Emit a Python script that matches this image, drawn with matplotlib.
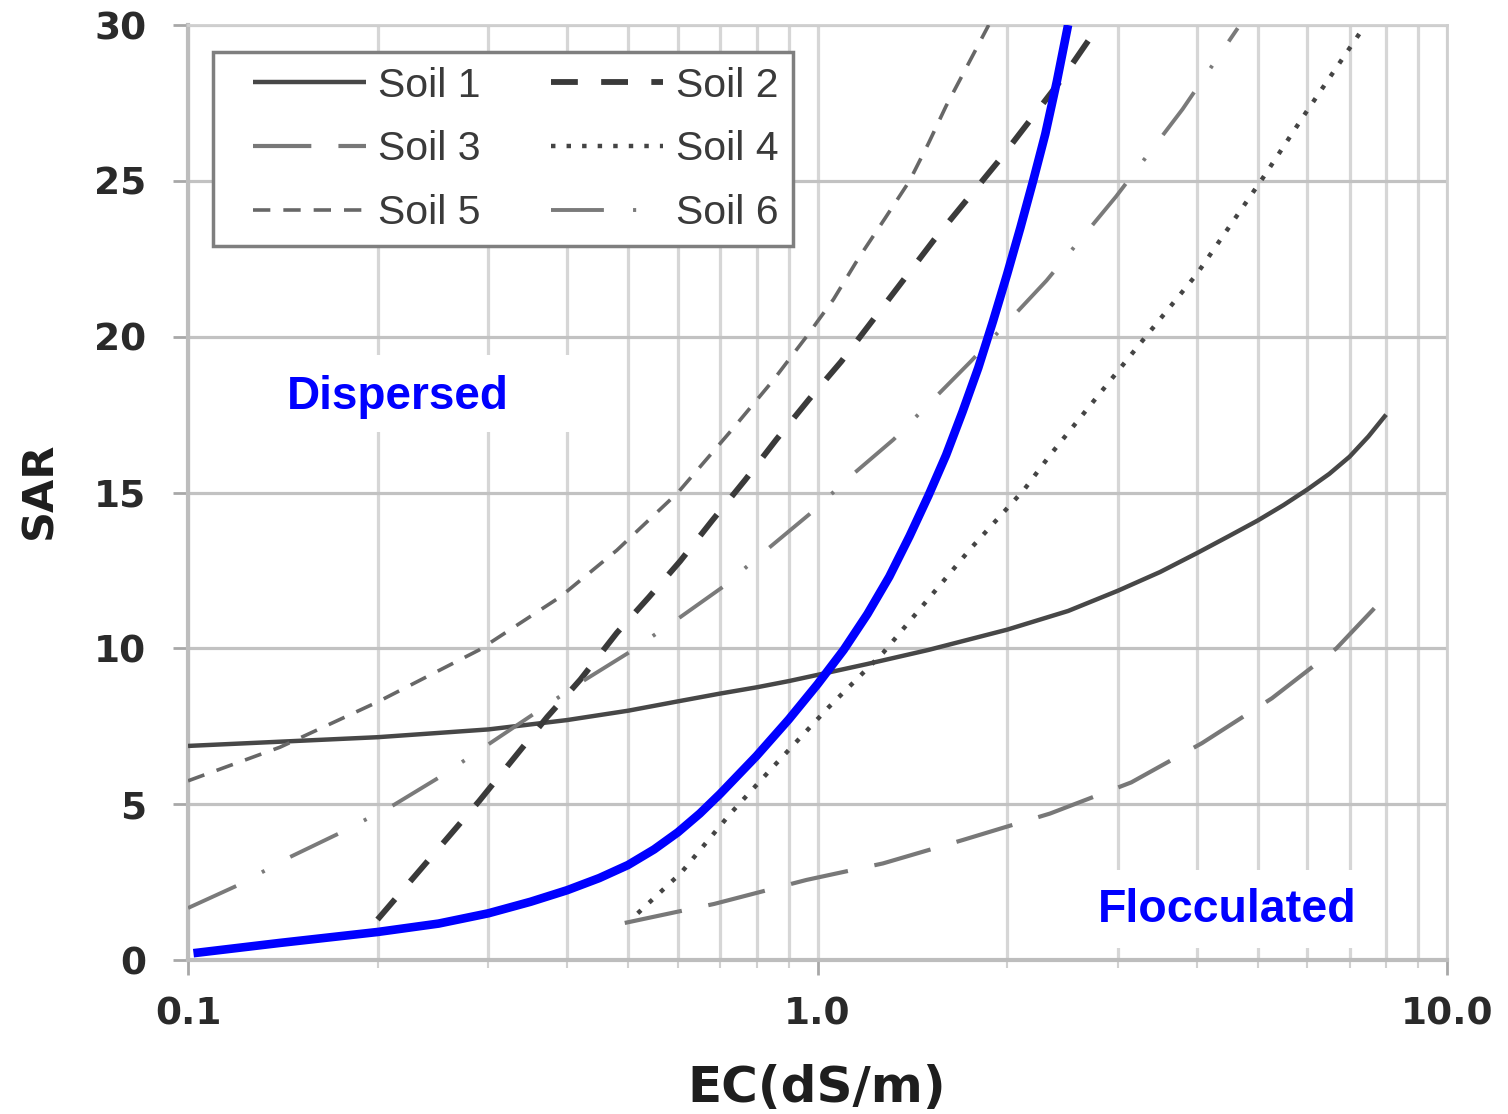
import matplotlib
matplotlib.use("Agg")
import matplotlib.pyplot as plt
from matplotlib.lines import Line2D
from matplotlib.legend_handler import HandlerLine2D
from matplotlib.patches import Rectangle
from matplotlib.ticker import LogLocator, NullFormatter

# EC (dS/m) and SAR pairs for each soil's dispersion boundary
soil1_ec = [0.1, 0.2, 0.3, 0.4, 0.5, 0.6, 0.7, 0.8, 0.9, 1.0, 1.2, 1.5, 2.0, 2.5, 3.0, 3.5,
            4.0, 4.5, 5.0, 5.5, 6.0, 6.5, 7.0, 7.5, 8.0]
soil1_sar = [6.87, 7.15, 7.4, 7.7, 8.0, 8.3, 8.55, 8.75, 8.95, 9.15, 9.5, 9.95, 10.6, 11.2, 11.85, 12.45,
             13.05, 13.6, 14.1, 14.6, 15.1, 15.6, 16.15, 16.8, 17.5]

soil2_ec = [0.2, 0.29, 0.372, 0.42, 0.48, 0.54, 0.605, 0.68, 0.767, 0.86, 0.97, 1.09, 1.21, 1.53, 1.95, 2.45, 2.8]
soil2_sar = [1.3, 5.1, 7.8, 9.0, 10.5, 11.65, 12.8, 14.1, 15.4, 16.7, 18.0, 19.2, 20.4, 23.1, 25.7, 28.3, 30.0]

soil3_ec = [0.494, 0.685, 0.96, 1.27, 1.70, 2.34, 3.15, 4.08, 5.27, 6.67, 7.8]
soil3_sar = [1.19, 1.8, 2.57, 3.1, 3.85, 4.7, 5.7, 6.96, 8.4, 10.0, 11.45]

soil4_ec = [0.518, 0.607, 0.727, 0.85, 1.04, 1.27, 1.75, 2.13, 2.34, 3.29, 4.0, 5.1, 5.97, 7.3]
soil4_sar = [1.5, 2.8, 4.7, 6.2, 8.1, 9.85, 13.2, 15.1, 16.2, 19.9, 22.0, 25.1, 27.2, 29.8]

soil5_ec = [0.1, 0.14, 0.2, 0.29, 0.39, 0.48, 0.6, 0.73, 0.85, 0.96, 1.06, 1.16, 1.28, 1.4, 1.5, 1.6, 1.73, 1.87]
soil5_sar = [5.75, 6.83, 8.28, 9.95, 11.65, 13.15, 15.0, 17.0, 18.6, 20.0, 21.2, 22.5, 23.8, 25.0, 26.2, 27.4, 28.7, 30.0]

soil6_ec = [0.1, 0.12, 0.145, 0.174, 0.212, 0.251, 0.302, 0.42, 0.5, 0.605, 0.707, 0.84,
            0.97, 1.14, 1.32, 1.75, 2.31, 2.98, 3.8, 4.65]
soil6_sar = [1.67, 2.4, 3.3, 4.07, 4.97, 5.87, 6.96, 8.9, 9.85, 11.0, 11.97, 13.25,
             14.3, 15.6, 16.7, 19.2, 21.8, 24.5, 27.3, 29.9]

# Threshold curve separating dispersed and flocculated states
threshold_ec = [0.102, 0.14, 0.2, 0.25, 0.3, 0.35, 0.4, 0.45, 0.5, 0.55, 0.6, 0.65, 0.7, 0.8, 0.9,
                1.0, 1.1, 1.2, 1.3, 1.4, 1.5, 1.6, 1.7, 1.8, 1.9, 2.0, 2.1, 2.2, 2.3, 2.4, 2.5]
threshold_sar = [0.22, 0.55, 0.9, 1.17, 1.5, 1.87, 2.24, 2.63, 3.05, 3.55, 4.1, 4.7, 5.33, 6.55, 7.72,
                 8.85, 9.95, 11.1, 12.3, 13.6, 14.9, 16.2, 17.6, 19.0, 20.5, 22.0, 23.5, 25.0, 26.5, 28.2, 30.0]

soil_labels = ["Soil 1", "Soil 2", "Soil 3", "Soil 4", "Soil 5", "Soil 6"]
x_tick_values = [0.1, 1.0, 10.0]
x_tick_labels = ["0.1", "1.0", "10.0"]
y_tick_values = [0, 5, 10, 15, 20, 25, 30]

fig = plt.figure(figsize=(15.08, 11.14), dpi=100)
ax = fig.add_axes([0.1247, 0.1382, 0.8349, 0.8393])

l1, = ax.plot(soil1_ec, soil1_sar, color="#474747", lw=3.2, solid_capstyle="butt",
              solid_joinstyle="round", zorder=3)
l2, = ax.plot(soil2_ec, soil2_sar, color="#3a3a3a", lw=4.2, dashes=(4.6, 4.0), zorder=3)
l3, = ax.plot(soil3_ec, soil3_sar, color="#787878", lw=3.0, dashes=(14, 6.5), zorder=3)
l4, = ax.plot(soil4_ec, soil4_sar, color="#444444", lw=3.2, dashes=(1, 2.5), zorder=3)
l5, = ax.plot(soil5_ec, soil5_sar, color="#676767", lw=2.6, dashes=(4.8, 3.6), zorder=3)
l6, = ax.plot(soil6_ec, soil6_sar, color="#7a7a7a", lw=2.8, dashes=(13.6, 7.5, 0.8, 7.5), zorder=3)
ax.plot(threshold_ec, threshold_sar, color="#0000ff", lw=6.2, solid_capstyle="butt",
        solid_joinstyle="round", zorder=4)

ax.set_xscale("log")
ax.set_xlim(0.1, 10)
ax.set_ylim(0, 30)
ax.set_xticks(x_tick_values)
ax.set_xticklabels(x_tick_labels)
ax.xaxis.set_minor_locator(LogLocator(base=10, subs=range(2, 10)))
ax.xaxis.set_minor_formatter(NullFormatter())
ax.set_yticks(y_tick_values)

ax.set_axisbelow(True)
ax.grid(True, which="major", axis="y", color="#c2c2c2", lw=2.3)
ax.grid(True, which="both", axis="x", color="#d6d6d6", lw=2.3)

for side in ("left", "bottom"):
    ax.spines[side].set_color("#bdbdbd")
    ax.spines[side].set_linewidth(3.0)
for side in ("top", "right"):
    ax.spines[side].set_color("#cfcfcf")
    ax.spines[side].set_linewidth(2.0)

ax.tick_params(axis="both", which="major", length=11, width=2, color="#a8a8a8",
               labelsize=27, labelcolor="#2a2a2a")
ax.tick_params(axis="x", which="major", pad=15)
ax.tick_params(axis="y", which="major", pad=19)
ax.tick_params(axis="x", which="minor", length=6, width=1.5, color="#d0d0d0")
for lbl in ax.get_xticklabels() + ax.get_yticklabels():
    lbl.set_fontweight("bold")
    lbl.set_family("DejaVu Sans")

ax.set_xlabel("EC(dS/m)", fontsize=36, fontweight="bold", family="DejaVu Sans",
              color="#1e1e1e", va="center")
ax.xaxis.set_label_coords(0.4996, -0.137)
ax.set_ylabel("SAR", fontsize=31, fontweight="bold", family="DejaVu Sans",
              color="#1e1e1e", va="center")
ax.yaxis.set_label_coords(-0.118, 0.503)

# White label boxes that mask the grid behind the region names
ax.add_patch(Rectangle((0.0095, 0.5647), 0.3336, 0.0823, transform=ax.transAxes,
                       facecolor="white", edgecolor="none", zorder=1.5))
ax.add_patch(Rectangle((0.6847, 0.0128), 0.2645, 0.0835, transform=ax.transAxes,
                       facecolor="white", edgecolor="none", zorder=1.5))
ax.text(0.1668, 0.6020, "Dispersed", transform=ax.transAxes, ha="center", va="center",
        fontsize=33, fontweight="bold", family="Liberation Sans", color="#0000ff", zorder=5)
ax.text(0.8253, 0.0530, "Flocculated", transform=ax.transAxes, ha="center", va="center",
        fontsize=33.5, fontweight="bold", family="Liberation Sans", color="#0000ff", zorder=5)

handles = [l1, l3, l5, l2, l4, l6]
labels = [soil_labels[0], soil_labels[2], soil_labels[4],
          soil_labels[1], soil_labels[3], soil_labels[5]]
leg = ax.legend(handles, labels, ncol=2, loc="upper left",
                bbox_to_anchor=(0.0199, 0.971), borderaxespad=0,
                prop={"family": "Liberation Sans", "size": 29.5},
                handlelength=4.0, handletextpad=-0.33, columnspacing=1.1,
                labelspacing=0.63, borderpad=0.35, frameon=True, fancybox=False,
                edgecolor="#7f7f7f", framealpha=1,
                handler_map={Line2D: HandlerLine2D(marker_pad=0.63, numpoints=2)})
leg.get_frame().set_linewidth(2.5)
leg.set_zorder(6)
for t in leg.get_texts():
    t.set_color("#3a3a3a")

fig.savefig("out.png", dpi=100, facecolor="white")
